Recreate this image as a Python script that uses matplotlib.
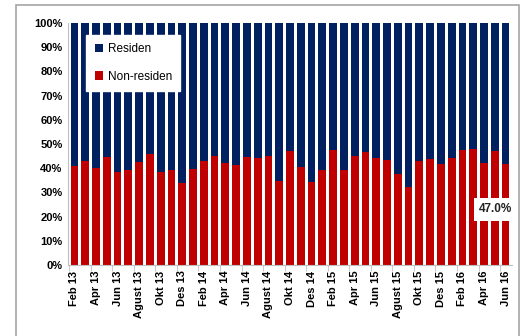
import matplotlib
matplotlib.use("Agg")
import matplotlib.pyplot as plt
from matplotlib.patches import Rectangle
import numpy as np

plt.rcParams['font.family'] = ['Liberation Sans', 'DejaVu Sans']

# months Feb 13 .. Jun 16
months = ['Feb 13', 'Mar 13', 'Apr 13', 'Mei 13', 'Jun 13', 'Jul 13', 'Agust 13', 'Sep 13',
          'Okt 13', 'Nov 13', 'Des 13', 'Jan 14', 'Feb 14', 'Mar 14', 'Apr 14', 'Mei 14',
          'Jun 14', 'Jul 14', 'Agust 14', 'Sep 14', 'Okt 14', 'Nov 14', 'Des 14', 'Jan 15',
          'Feb 15', 'Mar 15', 'Apr 15', 'Mei 15', 'Jun 15', 'Jul 15', 'Agust 15', 'Sep 15',
          'Okt 15', 'Nov 15', 'Des 15', 'Jan 16', 'Feb 16', 'Mar 16', 'Apr 16', 'Mei 16',
          'Jun 16']

# share of non-residents (%)
non_residen = [40.9, 43.0, 40.2, 44.6, 38.6, 39.4, 42.6, 46.0, 38.4, 39.4,
               33.7, 39.5, 42.8, 44.9, 42.1, 41.5, 44.6, 44.4, 45.2, 34.6,
               47.1, 40.6, 34.4, 39.3, 47.7, 39.3, 45.2, 46.8, 44.4, 43.4,
               37.6, 32.2, 43.0, 43.9, 41.7, 44.4, 47.7, 48.1, 42.0, 47.0,
               41.7]
residen = [100 - v for v in non_residen]

label_idx = 39
label_text = '47.0%'

navy = '#002060'
red = '#C00000'

fig = plt.figure(figsize=(5.24, 3.36), dpi=100)
fig.patches.append(Rectangle((16 / 524, -0.1), (519 - 16) / 524, 1.1 - 5 / 336,
                             transform=fig.transFigure, fill=False,
                             edgecolor='#a6a6a6', linewidth=1.2))
ax = fig.add_axes([68 / 524, 1 - 265 / 336, (512 - 68) / 524, (265 - 23) / 336])

x = np.arange(len(months))
ax.bar(x, non_residen, width=0.72, color=red, label='Non-residen', zorder=2)
ax.bar(x, residen, width=0.72, bottom=non_residen, color=navy, label='Residen', zorder=2)

ax.set_xlim(-0.6, len(months) - 0.4)
ax.set_ylim(0, 100)
ax.set_yticks(np.arange(0, 101, 10))
ax.set_yticklabels([f'{v}%' for v in range(0, 101, 10)], fontsize=8, fontweight='bold')
ax.set_xticks(x[::2])
ax.set_xticklabels(months[::2], rotation=90, fontsize=8, fontweight='bold')
ax.tick_params(axis='x', length=0, pad=4)
ax.tick_params(axis='y', length=0, pad=4)
ax.set_xticks(np.arange(-0.5, len(months), 2), minor=True)
ax.tick_params(axis='x', which='minor', length=4, color='#bfbfbf')

for s in ['top', 'right']:
    ax.spines[s].set_visible(False)
ax.spines['left'].set_color('#bfbfbf')
ax.spines['bottom'].set_color('#bfbfbf')

ax.text(x[label_idx] + 0.1, non_residen[label_idx] - 24, label_text, ha='center', va='center',
        fontsize=8.5, fontweight='bold', color='#222222',
        bbox=dict(facecolor='white', edgecolor='none', pad=4), zorder=3)

h, l = ax.get_legend_handles_labels()
leg = ax.legend(h[::-1], l[::-1], loc='upper left', bbox_to_anchor=(0.028, 0.975),
                fontsize=8.5, frameon=True, fancybox=False, framealpha=1,
                edgecolor='white', handlelength=0.7, handleheight=0.7,
                handletextpad=0.4, labelspacing=1.3, borderpad=0.7)

fig.savefig('out.png', dpi=100)
